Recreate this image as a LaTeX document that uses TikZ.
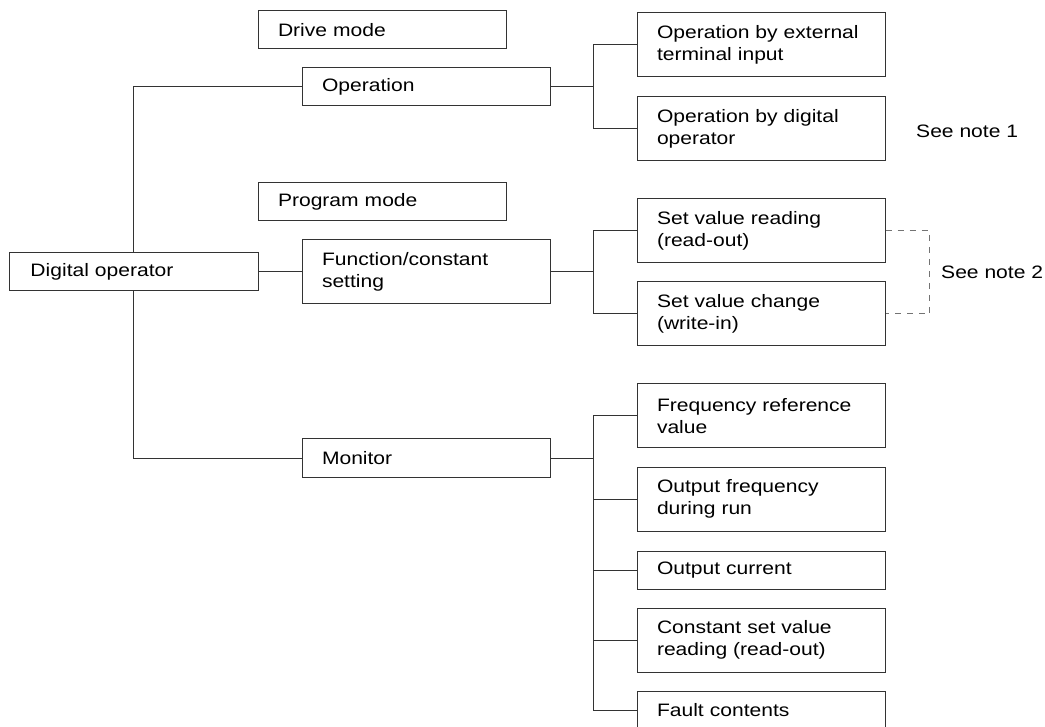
\documentclass[tikz,border=0pt]{standalone}
\usepackage{fontspec}
\setmainfont{Liberation Sans}[FakeStretch=1.17]
\begin{document}
\begin{tikzpicture}[x=1pt,y=-1pt,
  box/.style={draw=black!80, line width=1pt, rectangle, inner xsep=20pt, inner ysep=0pt,
    text width=208pt, minimum width=248pt, align=left,
    font=\fontsize{18}{22.5}\selectfont},
  single/.style={box, minimum height=38pt},
  double/.style={box, minimum height=64pt},
  conn/.style={draw=black!80, line width=1pt},
  dashline/.style={draw=black!55, line width=1pt, dash pattern=on 6pt off 6pt},
  notetext/.style={anchor=west, inner sep=0pt, font=\fontsize{18}{22.5}\selectfont}]
\useasboundingbox (0,0) rectangle (1045,727);
% level 0
\node[single, minimum width=249pt, text width=206pt, inner xsep=21.5pt] (dig) at (133.5,272) {Digital operator};
% mode labels
\node[single] (drive) at (382,30) {Drive mode};
\node[single] (prog) at (382,202) {Program mode};
% level 1
\node[single] (oper) at (426,87) {Operation};
\node[double] (func) at (426,272) {Function/constant\\setting};
\node[single] (mon) at (426,458) {Monitor};
% level 2
\node[double] (ext) at (761,45) {Operation by external\\terminal input};
\node[double] (opdig) at (761,129) {Operation by digital\\operator};
\node[double] (svr) at (761,231) {Set value reading\\(read-out)};
\node[double] (svc) at (761,314) {Set value change\\(write-in)};
\node[double] (freq) at (761,416) {Frequency reference\\value};
\node[double] (outf) at (761,499) {Output frequency\\during run};
\node[single] (outc) at (761,570) {Output current};
\node[double] (const) at (761,640) {Constant set value\\reading (read-out)};
\node[single] (fault) at (761,710) {Fault contents};
% notes
\node[notetext] (n1) at (916,131) {See note 1};
\node[notetext] (n2) at (941,272) {See note 2};
% connectors
\draw[conn] (dig.north) |- (oper.west);
\draw[conn] (dig.south) |- (mon.west);
\draw[conn] (dig.east) -- (func.west);
\draw[conn] (oper.east) -- ++(43,0) |- (ext.west);
\draw[conn] (oper.east) -- ++(43,0) |- (opdig.west);
\draw[conn] (func.east) -- ++(43,0) |- (svr.west);
\draw[conn] (func.east) -- ++(43,0) |- (svc.west);
\draw[conn] (mon.east) -- ++(43,0) |- (freq.west);
\draw[conn] (mon.east) -- ++(43,0) |- (outf.west);
\draw[conn] (mon.east) -- ++(43,0) |- (outc.west);
\draw[conn] (mon.east) -- ++(43,0) |- (const.west);
\draw[conn] (mon.east) -- ++(43,0) |- (fault.west);
\draw[dashline] (svr.east) -- ++(44,0) |- (svc.east);
\end{tikzpicture}
\end{document}
